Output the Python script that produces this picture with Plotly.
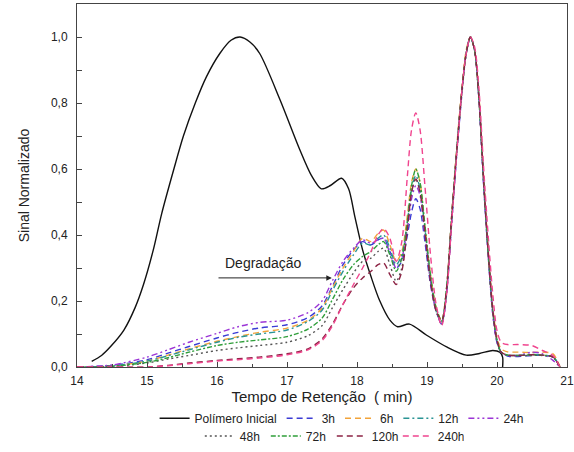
import plotly.graph_objects as go

# ---------------- data ----------------
x_grid = [14.0, 14.5, 15.0, 15.3, 15.6, 16.0, 16.3, 16.6, 17.0, 17.3, 17.5, 17.65, 17.8, 17.95,
          18.08, 18.2, 18.3, 18.38, 18.47, 18.56, 18.64, 18.72, 18.78, 18.84, 18.9, 18.97,
          19.05, 19.13, 19.21, 19.28, 19.35, 19.43, 19.5, 19.56, 19.62, 19.68, 19.74, 19.81,
          19.88, 19.94, 20.0, 20.06, 20.15, 20.3, 20.5, 20.65, 20.8, 20.9]

inicial_x = [14.21, 14.35, 14.48, 14.67, 14.83, 14.95, 15.09, 15.21, 15.38, 15.52, 15.69, 15.85,
             16.04, 16.2, 16.33, 16.47, 16.61, 16.9, 17.18, 17.35, 17.49, 17.62, 17.78, 17.88,
             17.97, 18.08, 18.2, 18.32, 18.47, 18.58, 18.75, 18.99, 19.28, 19.56, 19.75, 19.94,
             20.04, 20.08, 20.08]
inicial_y = [0.017, 0.035, 0.062, 0.112, 0.18, 0.25, 0.355, 0.465, 0.597, 0.70, 0.80, 0.88,
             0.95, 0.99, 1.0, 0.985, 0.95, 0.81, 0.66, 0.58, 0.54, 0.55, 0.572, 0.54,
             0.455, 0.355, 0.274, 0.203, 0.142, 0.122, 0.13, 0.097, 0.061, 0.036, 0.041, 0.05,
             0.045, 0.03, 0.0]

y_3h = [0.0, 0.005, 0.022, 0.042, 0.062, 0.088, 0.105, 0.118, 0.128, 0.15, 0.185, 0.245, 0.31, 0.355,
        0.38, 0.37, 0.385, 0.39, 0.35, 0.30, 0.32, 0.40, 0.47, 0.51, 0.48, 0.38,
        0.25, 0.17, 0.135, 0.23, 0.43, 0.66, 0.83, 0.95, 1.0, 0.96, 0.82, 0.55,
        0.32, 0.16, 0.075, 0.045, 0.033, 0.032, 0.035, 0.035, 0.03, 0.0]
y_6h = [0.0, 0.003, 0.018, 0.036, 0.055, 0.078, 0.092, 0.105, 0.118, 0.142, 0.178, 0.24, 0.30, 0.35,
        0.39, 0.38, 0.405, 0.415, 0.37, 0.32, 0.35, 0.46, 0.56, 0.60, 0.56, 0.43,
        0.28, 0.18, 0.14, 0.24, 0.45, 0.68, 0.85, 0.96, 1.0, 0.96, 0.83, 0.57,
        0.34, 0.18, 0.09, 0.055, 0.046, 0.045, 0.044, 0.045, 0.04, 0.0]
y_12h = [0.0, 0.003, 0.018, 0.034, 0.052, 0.075, 0.09, 0.10, 0.112, 0.138, 0.172, 0.232, 0.29, 0.34,
         0.375, 0.37, 0.39, 0.40, 0.36, 0.31, 0.34, 0.44, 0.54, 0.58, 0.54, 0.42,
         0.27, 0.17, 0.13, 0.23, 0.44, 0.67, 0.84, 0.95, 1.0, 0.96, 0.82, 0.56,
         0.33, 0.17, 0.08, 0.045, 0.036, 0.035, 0.038, 0.036, 0.03, 0.0]
y_24h = [0.0, 0.006, 0.03, 0.052, 0.075, 0.102, 0.122, 0.135, 0.142, 0.165, 0.20, 0.262, 0.32, 0.36,
         0.385, 0.375, 0.385, 0.39, 0.345, 0.30, 0.33, 0.42, 0.51, 0.55, 0.52, 0.40,
         0.26, 0.17, 0.13, 0.22, 0.43, 0.66, 0.84, 0.95, 1.0, 0.96, 0.82, 0.55,
         0.32, 0.16, 0.075, 0.045, 0.035, 0.035, 0.045, 0.04, 0.02, 0.0]
y_48h = [0.0, 0.002, 0.012, 0.024, 0.035, 0.05, 0.058, 0.065, 0.075, 0.095, 0.125, 0.18, 0.235, 0.285,
         0.32, 0.33, 0.35, 0.36, 0.31, 0.26, 0.30, 0.42, 0.53, 0.57, 0.53, 0.41,
         0.26, 0.17, 0.135, 0.23, 0.44, 0.67, 0.84, 0.95, 1.0, 0.96, 0.82, 0.56,
         0.33, 0.17, 0.08, 0.045, 0.036, 0.035, 0.035, 0.035, 0.03, 0.0]
y_72h = [0.0, 0.002, 0.014, 0.028, 0.045, 0.065, 0.075, 0.082, 0.092, 0.115, 0.148, 0.205, 0.265, 0.31,
         0.335, 0.35, 0.37, 0.38, 0.34, 0.29, 0.33, 0.44, 0.55, 0.60, 0.56, 0.43,
         0.28, 0.18, 0.14, 0.24, 0.45, 0.67, 0.84, 0.95, 1.0, 0.96, 0.82, 0.56,
         0.33, 0.17, 0.08, 0.045, 0.036, 0.035, 0.037, 0.036, 0.03, 0.0]
y_120h = [0.0, 0.0, 0.0, 0.005, 0.012, 0.02, 0.025, 0.03, 0.04, 0.055, 0.085, 0.13, 0.19, 0.24,
          0.27, 0.29, 0.31, 0.315, 0.28, 0.25, 0.29, 0.42, 0.53, 0.57, 0.53, 0.41,
          0.26, 0.17, 0.14, 0.24, 0.45, 0.67, 0.84, 0.95, 1.0, 0.96, 0.82, 0.56,
          0.33, 0.17, 0.08, 0.045, 0.036, 0.035, 0.037, 0.036, 0.03, 0.0]
y_240h = [0.0, 0.0, 0.0, 0.004, 0.01, 0.018, 0.022, 0.027, 0.037, 0.052, 0.08, 0.125, 0.19, 0.25,
          0.30, 0.35, 0.40, 0.42, 0.39, 0.32, 0.38, 0.58, 0.72, 0.77, 0.72, 0.55,
          0.34, 0.19, 0.125, 0.22, 0.43, 0.66, 0.84, 0.95, 1.0, 0.97, 0.85, 0.60,
          0.38, 0.22, 0.11, 0.075, 0.068, 0.068, 0.065, 0.05, 0.035, 0.0]

series_names = ["3h", "6h", "12h", "24h", "48h", "72h", "120h", "240h"]
series_values = [y_3h, y_6h, y_12h, y_24h, y_48h, y_72h, y_120h, y_240h]
series_colors = ["#3b3bd4", "#f2a33a", "#2a9494", "#9b35d6", "#555555", "#2f9e3a", "#8c2344", "#f0448e"]
series_dash = ["6px,4px", "6px,4px", "6px,3px,2px,3px", "6px,3px,2px,3px,2px,3px",
               "2px,3px", "5px,2px,2px,2px", "6px,4px", "6px,4px"]

annot_text = "Degradação"
x_title = "Tempo de Retenção  ( min)"
y_title = "Sinal Normalizado"

FONT = "Liberation Sans, Arial, sans-serif"

fig = go.Figure()
fig.add_trace(go.Scatter(x=inicial_x, y=inicial_y, mode="lines", name="Polímero Inicial",
                         line=dict(color="#111111", width=1.4, shape="spline", smoothing=0.8),
                         legend="legend"))
for i, (nm, vals, col, dsh) in enumerate(zip(series_names, series_values, series_colors, series_dash)):
    fig.add_trace(go.Scatter(x=x_grid, y=vals, mode="lines", name=nm,
                             line=dict(color=col, width=1.4, dash=dsh, shape="spline", smoothing=0.8),
                             legend="legend" if i < 4 else "legend2"))

fig.add_annotation(x=17.64, y=0.27, ax=16.0, ay=0.27, axref="x", ayref="y", xref="x", yref="y",
                   showarrow=True, arrowhead=2, arrowsize=1.1, arrowwidth=1, arrowcolor="#222",
                   text="")
fig.add_annotation(x=16.66, y=0.315, xref="x", yref="y", text=annot_text, showarrow=False,
                   font=dict(size=14, color="#222", family=FONT))

axis_common = dict(showline=True, linecolor="#444", linewidth=1, mirror=True, ticks="inside",
                   tickcolor="#444", ticklen=5, tickwidth=1, showgrid=False, zeroline=False,
                   automargin=False, tickfont=dict(size=12, color="#222", family=FONT))
fig.update_xaxes(range=[14, 21], dtick=1, tick0=14, ticklabelstandoff=3,
                 minor=dict(ticks="inside", dtick=0.5, ticklen=3, tickcolor="#444"),
                 title=dict(text=x_title, font=dict(size=15, color="#222", family=FONT), standoff=4),
                 **axis_common)
fig.update_yaxes(range=[0, 1.1], dtick=0.2, tick0=0, tickformat=".1f", ticklabelstandoff=6,
                 minor=dict(ticks="inside", dtick=0.1, ticklen=5, tickcolor="#444"),
                 title=dict(text=y_title, font=dict(size=14, color="#222", family=FONT), standoff=18),
                 **axis_common)

legend_common = dict(orientation="h", xanchor="center", yanchor="middle", itemwidth=30,
                     bgcolor="rgba(0,0,0,0)", tracegroupgap=0, itemclick=False,
                     font=dict(size=12, color="#222", family=FONT))
fig.update_layout(
    width=574, height=452, separators=",.",
    margin=dict(l=77, r=7, t=4, b=85, autoexpand=False),
    paper_bgcolor="white", plot_bgcolor="white",
    font=dict(family=FONT, color="#222"),
    legend=dict(x=0.54, y=-0.141, **legend_common),
    legend2=dict(x=0.52, y=-0.190, entrywidth=21, **legend_common),
)
fig.write_html("out.html", config={"displayModeBar": False},
               post_script="document.body.style.margin='0px';")
